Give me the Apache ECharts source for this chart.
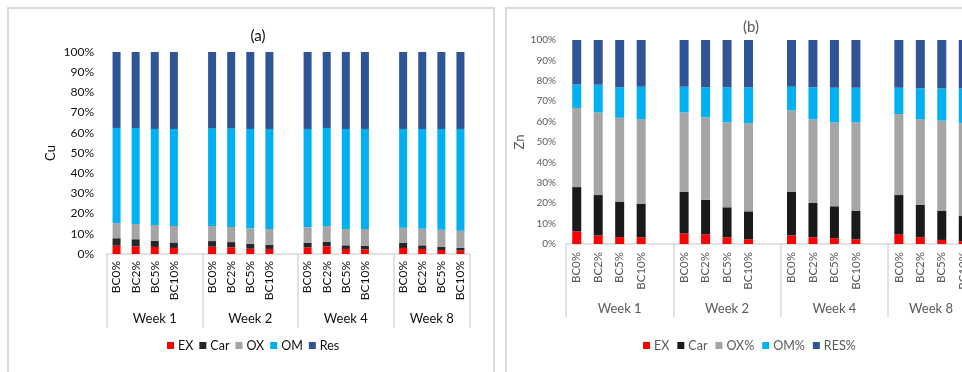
<!DOCTYPE html>
<html>
<head>
<meta charset="utf-8">
<script src="https://cdn.jsdelivr.net/npm/echarts@6/dist/echarts.min.js"></script>
<style>
  html, body { margin: 0; padding: 0; width: 962px; height: 372px; overflow: hidden; background: #fff; }
  #cu { position: absolute; left: 0; top: 0; width: 500px; height: 372px; }
  #zn { position: absolute; left: 500px; top: 0; width: 500px; height: 372px; }
</style>
</head>
<body>
<div id="cu"></div>
<div id="zn"></div>
<script>
// Sampling weeks and biochar treatments
const weeks = ['Week 1', 'Week 2', 'Week 4', 'Week 8'];
const treatments = ['BC0%', 'BC2%', 'BC5%', 'BC10%'];

// Cu fractions (% of total), Week 1..8, each BC0% / BC2% / BC5% / BC10%
const cuEX  = [4.1, 3.8, 3.5, 3.0,  3.6, 3.3, 2.6, 2.5,  3.3, 3.8, 2.5, 2.3,  3.0, 2.5, 2.0, 1.7];
const cuCar = [3.7, 3.5, 3.1, 2.7,  2.8, 2.6, 2.4, 2.0,  2.3, 2.3, 1.8, 1.8,  2.6, 1.8, 1.6, 1.4];
const cuOX  = [7.5, 7.6, 7.8, 8.2,  7.5, 7.5, 7.7, 7.9,  7.6, 7.8, 8.1, 8.3,  7.4, 8.2, 8.4, 8.4];
const cuOM  = [47.1, 47.5, 47.5, 48.0,  48.3, 48.8, 49.2, 49.5,  48.7, 48.5, 49.5, 49.5,  48.9, 49.4, 49.9, 50.4];
const cuRes = [37.6, 37.6, 38.1, 38.1,  37.8, 37.8, 38.1, 38.1,  38.1, 37.6, 38.1, 38.1,  38.1, 38.1, 38.1, 38.1];

// Zn fractions (% of total)
const znEX  = [6.2, 4.2, 3.4, 3.3,  5.2, 4.7, 3.3, 2.3,  4.2, 3.3, 2.8, 2.3,  4.6, 3.3, 2.0, 1.3];
const znCar = [21.7, 19.8, 17.2, 16.3,  20.3, 17.0, 14.7, 13.7,  21.3, 16.8, 15.7, 13.9,  19.4, 16.0, 14.2, 12.4];
const znOX  = [38.8, 40.5, 41.3, 41.5,  39.0, 40.4, 41.6, 43.2,  40.0, 41.0, 41.1, 43.4,  39.7, 41.8, 44.3, 45.5];
const znOM  = [11.6, 13.6, 14.9, 16.0,  12.6, 14.7, 17.2, 17.6,  11.6, 15.7, 17.0, 17.0,  12.9, 15.2, 15.8, 17.1];
const znRes = [21.7, 21.9, 23.2, 22.9,  22.9, 23.2, 23.2, 23.2,  22.9, 23.2, 23.4, 23.4,  23.4, 23.7, 23.7, 23.7];

const cuNames = ['EX', 'Car', 'OX', 'OM', 'Res'];
const znNames = ['EX', 'Car', 'OX%', 'OM%', 'RES%'];

const FONT = 'Lato, "Liberation Sans", sans-serif';
const GRID_LINE = '#d9d9d9';

// Category slots: four treatments per week, with an empty slot between weeks
const slotLabels = [];
const groupBounds = [0];
weeks.forEach((w, wi) => {
  treatments.forEach(t => slotLabels.push(t));
  if (wi < weeks.length - 1) slotLabels.push('');
  groupBounds.push(slotLabels.length);
});
const groupCenters = weeks.map((w, i) => (groupBounds[i] + groupBounds[i + 1]) / 2);
const slotCount = slotLabels.length;

function toSlots(values) {
  const out = [];
  weeks.forEach((w, wi) => {
    treatments.forEach((t, ti) => out.push(values[wi * treatments.length + ti]));
    if (wi < weeks.length - 1) out.push('-');
  });
  return out;
}

function buildOption(cfg) {
  const series = cfg.names.map((name, i) => ({
    name: name,
    type: 'bar',
    stack: 'total',
    xAxisIndex: 0,
    yAxisIndex: 0,
    barWidth: cfg.barWidth,
    itemStyle: { color: cfg.colors[i] },
    emphasis: { disabled: true },
    data: toSlots(cfg.values[i])
  }));
  return {
    animation: false,
    textStyle: { fontFamily: FONT },
    title: {
      text: cfg.title,
      left: cfg.titleX,
      top: cfg.titleY,
      textAlign: 'center',
      textStyle: { fontFamily: FONT, fontSize: 15, fontWeight: 'normal', color: cfg.textColor }
    },
    graphic: [{
      type: 'rect',
      shape: { x: cfg.frame[0], y: cfg.frame[1], width: cfg.frame[2], height: cfg.frame[3] },
      style: { fill: 'none', stroke: '#dcdcdc', lineWidth: 2 },
      silent: true,
      z: -10
    }],
    legend: {
      data: cfg.names,
      left: cfg.legendX,
      top: 339,
      padding: 0,
      icon: 'rect',
      itemWidth: 7,
      itemHeight: 7,
      itemGap: cfg.legendGap,
      textStyle: { fontFamily: FONT, fontSize: 12.5, color: cfg.textColor, padding: [0, 0, 0, -1] },
      selectedMode: false
    },
    grid: {
      left: cfg.grid[0], top: cfg.grid[1], width: cfg.grid[2], height: cfg.grid[3],
      containLabel: false
    },
    xAxis: [{
      type: 'category',
      data: slotLabels,
      boundaryGap: true,
      axisLine: { show: true, lineStyle: { color: GRID_LINE, width: 1.5 } },
      axisTick: { show: false },
      axisLabel: {
        interval: 0,
        rotate: 90,
        margin: cfg.catMargin,
        fontFamily: FONT,
        fontSize: cfg.catFont,
        color: cfg.textColor
      },
      splitLine: { show: false }
    }, {
      type: 'value',
      min: 0,
      max: slotCount,
      position: 'bottom',
      axisLine: { show: false },
      splitLine: { show: false },
      axisTick: {
        show: true,
        customValues: groupBounds,
        length: cfg.groupTick,
        lineStyle: { color: GRID_LINE, width: 1.5 }
      },
      axisLabel: {
        customValues: groupCenters,
        margin: cfg.weekMargin,
        fontFamily: FONT,
        fontSize: 13,
        color: cfg.textColor,
        formatter: function (v) {
          const k = groupCenters.findIndex(c => Math.abs(c - v) < 1e-6);
          return k >= 0 ? weeks[k] : '';
        }
      }
    }],
    yAxis: {
      type: 'value',
      min: 0,
      max: 100,
      interval: 10,
      name: cfg.yName,
      nameLocation: 'middle',
      nameGap: cfg.yNameGap,
      nameRotate: 90,
      nameMoveOverlap: false,
      nameTextStyle: { fontFamily: FONT, fontSize: 13, color: cfg.textColor },
      axisLine: { show: false },
      axisTick: { show: false },
      splitLine: { show: false },
      axisLabel: {
        formatter: '{value}%',
        margin: cfg.yMargin,
        fontFamily: FONT,
        fontSize: cfg.yFont,
        color: cfg.textColor
      }
    },
    series: series
  };
}

const cuChart = echarts.init(document.getElementById('cu'), null, { renderer: 'canvas' });
cuChart.setOption(buildOption({
  title: '(a)', titleX: 253, titleY: 24,
  frame: [8, 8, 486, 420],
  names: cuNames,
  values: [cuEX, cuCar, cuOX, cuOM, cuRes],
  colors: ['#ff0000', '#262626', '#a5a5a5', '#00b0f0', '#2f5597'],
  textColor: '#111111',
  grid: [107, 52, 363, 202],
  barWidth: 8,
  catFont: 12, catMargin: 7,
  groupTick: 74, weekMargin: 58,
  yName: 'Cu', yNameGap: 50, yFont: 12, yMargin: 13,
  legendX: 167, legendGap: 6
}));

const znChart = echarts.init(document.getElementById('zn'), null, { renderer: 'canvas' });
znChart.setOption(buildOption({
  title: '(b)', titleX: 246, titleY: 15,
  frame: [6, 8, 520, 420],
  names: znNames,
  values: [znEX, znCar, znOX, znOM, znRes],
  colors: ['#ff0000', '#1a1a1a', '#a5a5a5', '#00b0f0', '#2f5597'],
  textColor: '#595959',
  grid: [66, 40, 408, 204],
  barWidth: 9,
  catFont: 11.5, catMargin: 8,
  groupTick: 73, weekMargin: 58,
  yName: 'Zn', yNameGap: 40, yFont: 10, yMargin: 10,
  legendX: 143, legendGap: 8
}));
</script>
</body>
</html>
